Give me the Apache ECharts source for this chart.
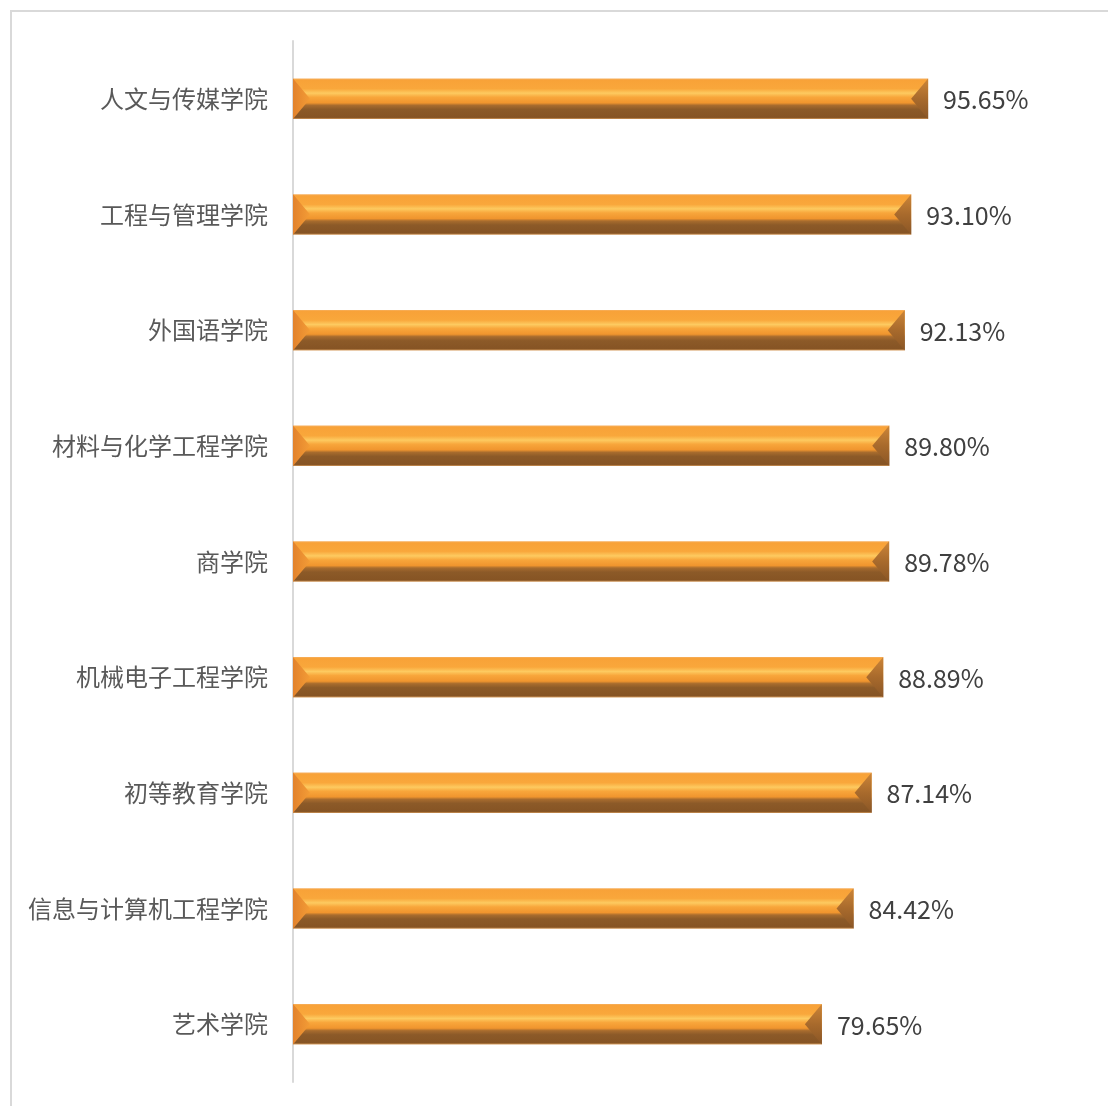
<!DOCTYPE html>
<html>
<head>
<meta charset="utf-8">
<script src="https://cdn.jsdelivr.net/npm/echarts@6/dist/echarts.min.js"></script>
<style>
  html, body { margin: 0; padding: 0; background: #fff; }
  #chart { width: 1108px; height: 1106px; }
</style>
</head>
<body>
<div id="chart"></div>
<script>
// 学院名称（从上到下）
var colleges = ['人文与传媒学院', '工程与管理学院', '外国语学院', '材料与化学工程学院', '商学院',
  '机械电子工程学院', '初等教育学院', '信息与计算机工程学院', '艺术学院'];
// 百分比
var rates = [95.65, 93.10, 92.13, 89.80, 89.78, 88.89, 87.14, 84.42, 79.65];

var myChart = echarts.init(document.getElementById('chart'));

// 斜面效果的条形
function renderBar(params, api) {
  var cat = api.value(1);
  var val = api.value(0);
  var p0 = api.coord([0, cat]);
  var p1 = api.coord([val, cat]);
  var h = api.size([0, 1])[1] * 0.35;
  var x0 = p0[0], x1 = p1[0], yc = p0[1];
  var y0 = yc - h / 2, y1 = yc + h / 2;
  var d = 17;
  return {
    type: 'group',
    children: [
      {
        type: 'rect',
        shape: { x: x0, y: y0, width: x1 - x0, height: h },
        style: {
          fill: new echarts.graphic.LinearGradient(0, 0, 0, 1, [
            { offset: 0, color: '#f6b060' },
            { offset: 0.04, color: '#f8a238' },
            { offset: 0.25, color: '#f9a73b' },
            { offset: 0.36, color: '#fdca60' },
            { offset: 0.46, color: '#f8a63b' },
            { offset: 0.6, color: '#f0952e' },
            { offset: 0.66, color: '#a86c2e' },
            { offset: 0.76, color: '#8c5a28' },
            { offset: 0.96, color: '#865424' },
            { offset: 1, color: '#d49a5c' }
          ])
        }
      },
      {
        type: 'polygon',
        shape: { points: [[x0, y0], [x0 + d, yc], [x0, y1]] },
        style: {
          fill: new echarts.graphic.LinearGradient(0, 0, 1, 0, [
            { offset: 0, color: '#e2822c' },
            { offset: 1, color: '#f39c36' }
          ])
        }
      },
      {
        type: 'polygon',
        shape: { points: [[x1, y0], [x1 - d, yc], [x1, y1]] },
        style: {
          fill: new echarts.graphic.LinearGradient(0, 0, 0, 1, [
            { offset: 0, color: '#cc8538' },
            { offset: 0.5, color: '#a86a2c' },
            { offset: 1, color: '#8a5626' }
          ])
        }
      },
      {
        type: 'text',
        style: {
          text: val.toFixed(2) + '%',
          x: x1 + 15,
          y: yc + 1,
          verticalAlign: 'middle',
          align: 'left',
          fill: '#404040',
          fontSize: 25,
          fontFamily: '"Noto Sans CJK SC", "Noto Sans", sans-serif'
        }
      }
    ]
  };
}

myChart.setOption({
  animation: false,
  graphic: [
    {
      type: 'rect',
      shape: { x: 11, y: 11, width: 1200, height: 1200 },
      style: { fill: 'none', stroke: '#d9d9d9', lineWidth: 2 },
      silent: true
    }
  ],
  grid: {
    left: 293,
    top: 41,
    width: 664,
    height: 1041
  },
  xAxis: {
    type: 'value',
    min: 0,
    max: 100,
    show: false,
    splitLine: { show: false }
  },
  yAxis: {
    type: 'category',
    inverse: true,
    data: colleges,
    axisTick: { show: false },
    axisLine: {
      show: true,
      lineStyle: { color: '#d9d9d9', width: 2 }
    },
    axisLabel: {
      margin: 25,
      fontSize: 24,
      color: '#595959',
      fontFamily: '"Noto Sans CJK SC", sans-serif'
    }
  },
  series: [
    {
      type: 'custom',
      renderItem: renderBar,
      encode: { x: 0, y: 1 },
      data: rates.map(function (v, i) { return [v, i]; })
    }
  ]
});
</script>
</body>
</html>
